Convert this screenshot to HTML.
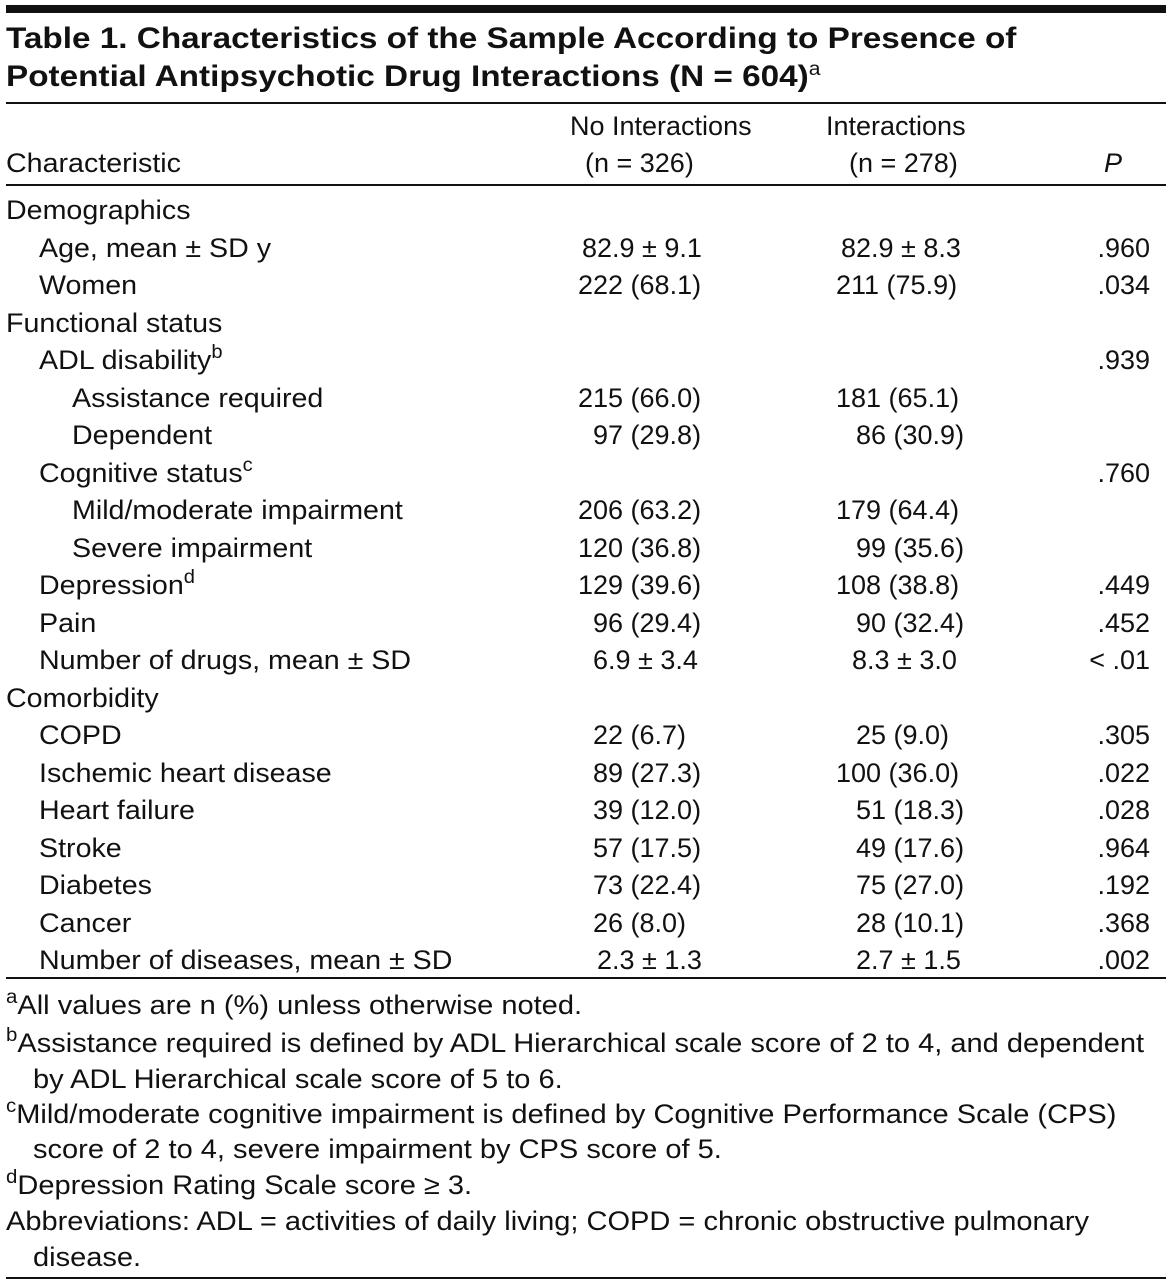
<!DOCTYPE html>
<html><head><meta charset="utf-8"><style>
body{margin:0;width:1174px;height:1286px;background:#fff;position:relative;font-family:"Liberation Sans",sans-serif;color:#111;overflow:hidden}
.t{position:absolute;white-space:nowrap;font-size:27px;line-height:1;transform-origin:0 0}
.b{font-weight:bold;font-size:30px;transform:scaleX(1.11)}
.lb{transform:scaleX(1.06)}
.fn{transform:scaleX(1.075)}
.r{position:absolute;left:6px;width:1160px;background:#111}
sup{font-size:19px;vertical-align:0;position:relative;top:-11px}
</style></head><body>
<div class="r" style="top:5px;height:8px"></div>
<div class="t b" style="left:6px;top:24px">Table 1. Characteristics of the Sample According to Presence of</div>
<div class="t b" style="left:6px;top:62px">Potential Antipsychotic Drug Interactions (N = 604)<sup style="font-weight:normal">a</sup></div>
<div class="r" style="top:102px;height:2px"></div>
<div class="t" style="left:570px;top:113px">No Interactions</div>
<div class="t" style="left:585px;top:150px">(n = 326)</div>
<div class="t" style="left:826px;top:113px">Interactions</div>
<div class="t" style="left:849px;top:150px">(n = 278)</div>
<div class="t lb" style="left:6px;top:150px">Characteristic</div>
<div class="t" style="left:1104px;top:150px;font-style:italic">P</div>
<div class="r" style="top:184px;height:2px"></div>
<div id="rows"></div>
<div class="r" style="top:977px;height:2px"></div>
<div class="t fn" style="left:6px;top:992px"><sup>a</sup>All values are n (%) unless otherwise noted.</div>
<div class="t fn" style="left:6px;top:1030px"><sup>b</sup>Assistance required is defined by ADL Hierarchical scale score of 2 to 4, and dependent</div>
<div class="t fn" style="left:33px;top:1066px">by ADL Hierarchical scale score of 5 to 6.</div>
<div class="t fn" style="left:6px;top:1101px"><sup>c</sup>Mild/moderate cognitive impairment is defined by Cognitive Performance Scale (CPS)</div>
<div class="t fn" style="left:33px;top:1136px">score of 2 to 4, severe impairment by CPS score of 5.</div>
<div class="t fn" style="left:6px;top:1172px"><sup>d</sup>Depression Rating Scale score ≥ 3.</div>
<div class="t fn" style="left:6px;top:1208px">Abbreviations: ADL = activities of daily living; COPD = chronic obstructive pulmonary</div>
<div class="t fn" style="left:33px;top:1244px">disease.</div>
<div class="r" style="top:1277px;height:2px"></div>
<script>
const labels=["Demographics","Age, mean ± SD y","Women","Functional status","ADL disability<sup>b</sup>","Assistance required","Dependent","Cognitive status<sup>c</sup>","Mild/moderate impairment","Severe impairment","Depression<sup>d</sup>","Pain","Number of drugs, mean ± SD","Comorbidity","COPD","Ischemic heart disease","Heart failure","Stroke","Diabetes","Cancer","Number of diseases, mean ± SD"];
const indent=[0,1,1,0,1,2,2,1,2,2,1,1,1,0,1,1,1,1,1,1,1];
const noInt=["","82.9 ± 9.1","222 (68.1)","","","215 (66.0)","97 (29.8)","","206 (63.2)","120 (36.8)","129 (39.6)","96 (29.4)","6.9 ± 3.4","","22 (6.7)","89 (27.3)","39 (12.0)","57 (17.5)","73 (22.4)","26 (8.0)","2.3 ± 1.3"];
const noX=[0,582,578,0,0,578,593,0,578,578,578,593,593,0,593,593,593,593,593,593,597];
const inter=["","82.9 ± 8.3","211 (75.9)","","","181 (65.1)","86 (30.9)","","179 (64.4)","99 (35.6)","108 (38.8)","90 (32.4)","8.3 ± 3.0","","25 (9.0)","100 (36.0)","51 (18.3)","49 (17.6)","75 (27.0)","28 (10.1)","2.7 ± 1.5"];
const intX=[0,841,836,0,0,836,856,0,836,856,836,856,852,0,856,836,856,856,856,856,856];
const pv=["",".960",".034","",".939","","",".760","","",".449",".452","< .01","",".305",".022",".028",".964",".192",".368",".002"];
const c=document.getElementById('rows');
labels.forEach((l,i)=>{
 const top=197+i*37.5;
 const a=document.createElement('div');a.className='t lb';a.style.left=(6+indent[i]*33)+'px';a.style.top=top+'px';a.innerHTML=l;
 
 
 c.appendChild(a);
 if(noInt[i]){const d=document.createElement('div');d.className='t';d.style.left=noX[i]+'px';d.style.top=top+'px';d.textContent=noInt[i];
 
 
 c.appendChild(d);}
 if(inter[i]){const d=document.createElement('div');d.className='t';d.style.left=intX[i]+'px';d.style.top=top+'px';d.textContent=inter[i];
 
 
 c.appendChild(d);}
 if(pv[i]){const d=document.createElement('div');d.className='t';d.style.right=(1174-1150)+'px';d.style.top=top+'px';d.textContent=pv[i];
 
 
 c.appendChild(d);}
});
</script>
</body></html>
